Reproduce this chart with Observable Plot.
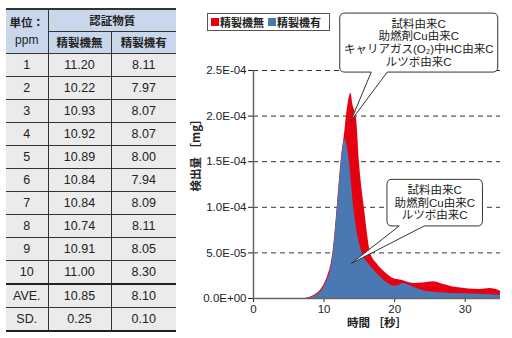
<!DOCTYPE html>
<html lang="ja">
<head>
<meta charset="utf-8">
<script src="https://cdn.jsdelivr.net/npm/d3@7"></script>
<script src="https://cdn.jsdelivr.net/npm/@observablehq/plot@0.6"></script>
<style>
html,body{margin:0;padding:0;background:#fff}
body{position:relative;width:512px;height:338px;overflow:hidden;font-family:"Liberation Sans","Noto Sans CJK JP",sans-serif;color:#222}
#tbl{position:absolute;left:6px;top:8px;border-collapse:collapse;table-layout:fixed;width:170px}
#tbl th,#tbl td{padding:0;text-align:center;border-bottom:1px solid #333;border-right:1px solid #333;font-size:12.5px;line-height:1}
#tbl th:last-child,#tbl td:last-child{border-right:none}
#tbl thead th{background:#c9d7ec;font-family:"Noto Sans CJK JP",sans-serif;font-weight:700;font-size:11.5px;height:21px}
#tbl thead tr:first-child th{border-top:2px solid #333}
#tbl thead th.unit{line-height:1.45}
#tbl thead th.unit span{font-family:"Liberation Sans",sans-serif;font-weight:400;font-size:12px}
#tbl tbody td{background:#ebebeb;height:22px}
#tbl tbody tr.sep td{border-bottom:2px solid #222}
#tbl tbody tr:last-child td{border-bottom:2px solid #222}
#chart{position:absolute;left:190px;top:0}
#legend{position:absolute;left:207px;top:13px;width:118px;height:16px;border:1px solid #555;background:#fff;display:flex;align-items:center;font-family:"Noto Sans CJK JP",sans-serif;font-weight:700;font-size:11px;line-height:1;padding-left:3px;box-sizing:content-box}
#legend .sw{display:inline-block;width:8px;height:8px;margin-right:1px}
#legend .item{display:flex;align-items:center;margin-right:4px}
</style>
</head>
<body>
<table id="tbl"></table>
<div id="legend"></div>
<div id="chart"></div>
<script>
// ---- Table data ----
const tableUnit = ["単位：", "ppm"];
const tableGroup = "認証物質";
const seriesNames = ["精製機無", "精製機有"];
const tableRows = ["1","2","3","4","5","6","7","8","9","10","AVE.","SD."];
const withoutRefiner = [11.20,10.22,10.93,10.92,10.89,10.84,10.84,10.74,10.91,11.00,10.85,0.25];
const withRefiner    = [8.11,7.97,8.07,8.07,8.00,7.94,8.09,8.11,8.05,8.30,8.10,0.10];

// ---- Chart data: time [s] and detected amount [mg] ----
const timeWithout = [7.3,8.5,9.5,10,10.5,11,11.3,11.9,12.45,12.9,13.2,13.5,13.8,14.1,14.6,15.0,15.7,16.6,17.5,18.9,19.8,21,22.7,24,25.5,26.7,28.8,30.5,32.1,33.5,34.7,35];
const detWithout  = [0,3e-6,9e-6,1.5e-5,2.4e-5,3.8e-5,5.3e-5,1.03e-4,1.53e-4,1.8e-4,2.02e-4,2.18e-4,2.25e-4,2.12e-4,1.97e-4,1.5e-4,1.0e-4,5.0e-5,3.8e-5,2.7e-5,2.2e-5,2.0e-5,1.65e-5,1.7e-5,1.85e-5,1.6e-5,1.2e-5,1.05e-5,1.0e-5,1.1e-5,9e-6,8e-6];
const timeWith = [7.7,8.5,9.5,10,10.5,11,11.3,11.9,12.45,12.75,12.95,13.2,13.6,14.2,15.4,16.3,17.2,18.2,19.2,19.9,20.5,21.2,22.5,24.1,26,28,30.7,35];
const detWith  = [0,2e-6,7e-6,1.3e-5,2.1e-5,3.4e-5,5e-5,1.0e-4,1.5e-4,1.7e-4,1.74e-4,1.7e-4,1.5e-4,1.0e-4,5e-5,3.8e-5,3e-5,2.2e-5,1.6e-5,1.35e-5,1.4e-5,1.65e-5,1.3e-5,8.5e-6,6.6e-6,5.5e-6,4.8e-6,3.7e-6];

const xTicks = [0,10,20,30];
const yTicks = [0,5e-5,1e-4,1.5e-4,2e-4,2.5e-4];
const xLabel = "時間 ［秒］";
const yLabel = "検出量 ［mg］";

// ---- Annotations (text + the point each one points at) ----
const calloutTexts = [
  ["試料由来C","助燃剤Cu由来C","キャリアガス(O₂)中HC由来C","ルツボ由来C"],
  ["試料由来C","助燃剤Cu由来C","ルツボ由来C"]
];
const calloutTipTime = [13.85, 13.95];
const calloutTipValue = [1.94e-4, 3.8e-5];

// ---- Build table ----
const tbl = d3.select("#tbl");
const cg = tbl.append("colgroup");
[42,63,65].forEach(w => cg.append("col").style("width", w + "px"));
const thead = tbl.append("thead");
const h1 = thead.append("tr");
h1.append("th").attr("rowspan", 2).attr("class", "unit").html(tableUnit[0] + "<br><span>" + tableUnit[1] + "</span>");
h1.append("th").attr("colspan", 2).text(tableGroup);
const h2 = thead.append("tr");
seriesNames.forEach(n => h2.append("th").text(n));
const tbody = tbl.append("tbody");
tableRows.forEach((r, i) => {
  const tr = tbody.append("tr").attr("class", i === 9 ? "sep" : null);
  tr.append("td").text(r);
  tr.append("td").text(withoutRefiner[i].toFixed(2));
  tr.append("td").text(withRefiner[i].toFixed(2));
});

// ---- Legend ----
const colors = ["#e60012", "#4a78b2"];
const lg = d3.select("#legend");
seriesNames.forEach((n, i) => {
  const it = lg.append("span").attr("class", "item");
  it.append("span").attr("class", "sw").style("background", colors[i]);
  it.append("span").text(n);
});

// ---- Chart ----
const redData = timeWithout.map((t, i) => ({t, v: detWithout[i]}));
const blueData = timeWith.map((t, i) => ({t, v: detWith[i]}));

const fmtE = d => {
  const [m, e] = d.toExponential(1).split("e");
  const n = +e;
  return m + "E" + (n < 0 ? "-" : "+") + String(Math.abs(n)).padStart(2, "0");
};

// callout box layout, in pixels relative to the tip
const calloutLayout = [
  {x1: -11, x2: 147, y1: -108, y2: -49, p1: 20.5, p2: 36.5},
  {x1: 35.5, x2: 131, y1: -84, y2: -37.4, p1: 47.8, p2: 72.8}
];

function callouts(index, scales) {
  const g = d3.create("svg:g");
  calloutTexts.forEach((lines, i) => {
    const tx = scales.x(calloutTipTime[i]), ty = scales.y(calloutTipValue[i]);
    const L = calloutLayout[i];
    const x1 = tx + L.x1, x2 = tx + L.x2, y1 = ty + L.y1, y2 = ty + L.y2;
    const p1 = tx + L.p1, p2 = tx + L.p2, r = 5;
    const d = `M${x1 + r},${y1}H${x2 - r}Q${x2},${y1} ${x2},${y1 + r}V${y2 - r}Q${x2},${y2} ${x2 - r},${y2}` +
      `H${p2}L${tx},${ty}L${p1},${y2}H${x1 + r}Q${x1},${y2} ${x1},${y2 - r}V${y1 + r}Q${x1},${y1} ${x1 + r},${y1}Z`;
    g.append("path").attr("d", d).attr("fill", "#fff").attr("stroke", "#333").attr("stroke-width", 1);
    const cx = (x1 + x2) / 2, cy = (y1 + y2) / 2, lh = 12.7;
    const t = g.append("text").attr("text-anchor", "middle").attr("font-size", 11.5)
      .attr("font-family", '"Liberation Sans","Noto Sans CJK JP",sans-serif').attr("fill", "#222");
    lines.forEach((s, k) => {
      t.append("tspan").attr("x", cx).attr("y", cy + (k - (lines.length - 1) / 2) * lh).attr("dy", "0.36em").text(s);
    });
  });
  return g.node();
}

const chart = Plot.plot({
  width: 322,
  height: 338,
  marginLeft: 63,
  marginRight: 12,
  marginTop: 70,
  marginBottom: 40,
  style: {fontFamily: '"Liberation Sans","Noto Sans CJK JP",sans-serif', fontSize: "11.5px", color: "#222", background: "transparent", overflow: "visible"},
  x: {domain: [0, 35], ticks: xTicks, tickSize: 4, tickPadding: 2, label: null},
  y: {domain: [0, 2.5e-4], ticks: yTicks, tickFormat: fmtE, tickSize: 5, tickPadding: 2, label: null},
  marks: [
    Plot.ruleY(yTicks.filter(d => d > 0), {stroke: "#333", strokeDasharray: "5,4"}),
    Plot.areaY(redData, {x: "t", y: "v", fill: colors[0], curve: "monotone-x"}),
    Plot.areaY(blueData, {x: "t", y: "v", fill: colors[1], curve: "monotone-x"}),
    Plot.ruleX([0], {stroke: "#666", strokeWidth: 1.5}),
    Plot.ruleY([0], {stroke: "#666", strokeWidth: 1.5}),
    Plot.text([xLabel], {frameAnchor: "bottom", dy: 28, fontSize: 11.5, fontWeight: "bold", fontFamily: '"Noto Sans CJK JP",sans-serif'}),
    Plot.text([yLabel], {frameAnchor: "left", rotate: -90, dx: -57, dy: 7, fontSize: 11.5, fontWeight: "bold", fontFamily: '"Noto Sans CJK JP",sans-serif'}),
    callouts
  ]
});
document.getElementById("chart").appendChild(chart);
</script>
</body>
</html>
